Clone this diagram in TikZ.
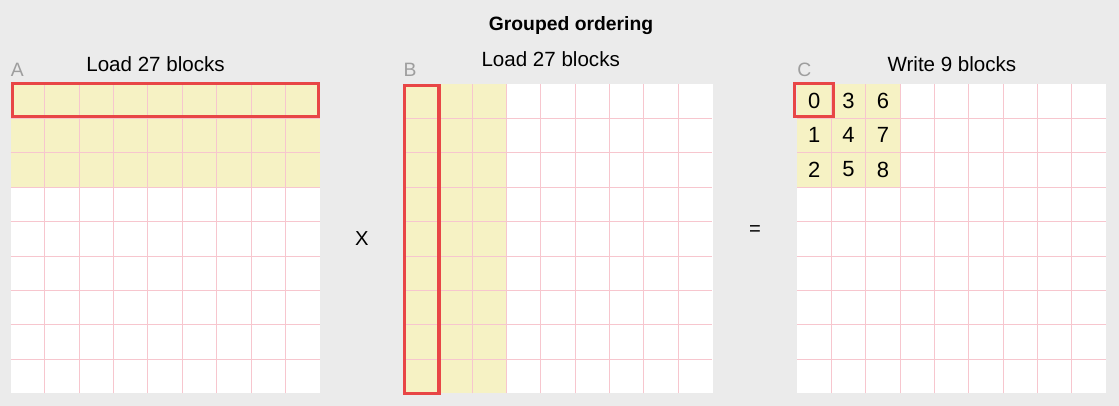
\documentclass[tikz,border=0pt]{standalone}
\usepackage{fontspec}
\setmainfont{Liberation Sans}
\usepackage{tikz}
\usetikzlibrary{calc,positioning}
\definecolor{paper}{HTML}{EBEBEB}
\definecolor{loaded}{HTML}{F6F2C4}
\definecolor{gridpink}{HTML}{F7C6CE}
\definecolor{pickred}{HTML}{E84646}
\definecolor{tagGray}{HTML}{9E9E9E}
\newcommand{\cellw}{0.6867}
\tikzstyle{matrixgrid} = [rectangle, fill=white, inner sep=0pt, minimum width=6.18cm, minimum height=6.18cm]
\tikzstyle{cellline} = [gridpink, line width=0.02cm]
\tikzstyle{pick} = [pickred, line width=0.065cm]

\begin{document}
\begin{tikzpicture}
\tikzset{%
	heading/.style = { inner sep=0pt, font=\fontsize{11}{13}\selectfont\bfseries },
	caption/.style = { inner sep=0pt, font=\fontsize{11.7}{14}\selectfont },
	tag/.style = { inner sep=0pt, text=tagGray, font=\fontsize{11}{13}\selectfont },
	blocknum/.style = { inner sep=0pt, font=\fontsize{12.5}{14}\selectfont },
	operator/.style = { inner sep=0pt, font=\fontsize{11.5}{13}\selectfont }
}
\fill[paper] (0,0) rectangle (22.38,8.12);
\useasboundingbox (0,0) rectangle (22.38,8.12);

\node(Title)		[heading, anchor=base] at (11.42,7.5)
								{Grouped ordering};

\node(GridA)		[matrixgrid] at (3.31,3.35) {};
\node(GridB)		[matrixgrid, right=1.66cm of GridA.east] {};
\node(GridC)		[matrixgrid, right=1.68cm of GridB.east] {};

% loaded blocks
\fill[loaded] (GridA.north west) rectangle ($(GridA.north east)+(0,-3*\cellw)$);
\fill[loaded] (GridB.north west) rectangle ($(GridB.south west)+(3*\cellw,0)$);
\fill[loaded] (GridC.north west) rectangle ($(GridC.north west)+(3*\cellw,-3*\cellw)$);

\foreach \g in {GridA,GridB,GridC}{
	\foreach \i in {1,...,8}{
		\draw[cellline] ($(\g.south west)+(\i*\cellw,0)$) -- ++(0,6.18);
		\draw[cellline] ($(\g.south west)+(0,\i*\cellw)$) -- ++(6.18,0);
	}
}

\node(TagA)			[tag, above right=0.14cm and 0cm of GridA.north west]	{A};
\node(TagB)			[tag, above right=0.14cm and 0cm of GridB.north west]	{B};
\node(TagC)			[tag, above right=0.14cm and 0cm of GridC.north west]	{C};

\node(LoadA)		[caption, anchor=base] at ($(GridA.north)+(-0.2,0.24)$)
								{Load 27 blocks};
\node(LoadB)		[caption, anchor=base] at ($(GridB.north)+(-0.15,0.34)$)
								{Load 27 blocks};
\node(WriteC)		[caption, anchor=base] at ($(GridC.north)+(0,0.24)$)
								{Write 9 blocks};

\node(Times)		[operator] at ($(GridA.east)!0.5!(GridB.west)$)	{X};
\node(Equals)		[operator, yshift=0.15cm] at ($(GridB.east)!0.5!(GridC.west)$)	{=};

% output blocks, column by column
\foreach \n [evaluate=\n as \col using {int(\n/3)}, evaluate=\n as \row using {int(mod(\n,3))}] in {0,...,8}
	\node(Out\n) [blocknum] at ($(GridC.north west)+({(\col+0.5)*\cellw},{-(\row+0.5)*\cellw})$) {\n};

% current row, column and block
\draw[pick] ($(GridA.north west)+(0.03,0)$) rectangle ($(GridA.north east)+(-0.03,-\cellw+0.03)$);
\draw[pick] ($(GridB.north west)+(0.016,-0.03)$) rectangle ($(GridB.south west)+(\cellw+0.024,0)$);
\draw[pick] ($(GridC.north west)+(-0.044,0)$) rectangle ($(GridC.north west)+(\cellw+0.044,-\cellw+0.03)$);
\end{tikzpicture}
\end{document}
